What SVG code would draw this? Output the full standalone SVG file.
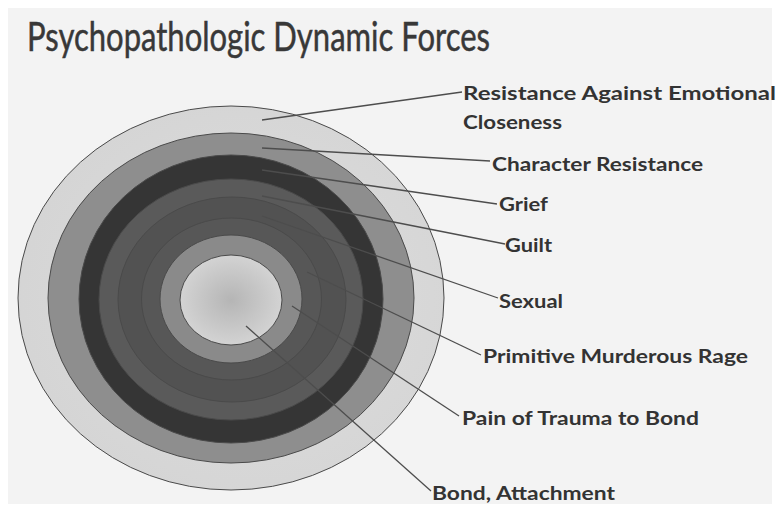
<svg xmlns="http://www.w3.org/2000/svg" width="780" height="510" viewBox="0 0 780 510">
  <style>
    .ring { stroke: #4a4a4a; stroke-width: 1; }
    .lbl { font-family: Lato, "Open Sans", "Liberation Sans", sans-serif; font-weight: bold; font-size: 18px; fill: #333333; }
    .title { font-family: Lato, "Open Sans", "Liberation Sans", sans-serif; font-size: 40px; fill: #383838; stroke: #383838; stroke-width: 0.5; }
    .lead { stroke: #4d4d4d; stroke-width: 1.3; fill: none; }
  </style>
  <defs>
    <radialGradient id="gOuter" cx="0.55" cy="0.5" r="0.6">
      <stop offset="0" stop-color="#dedede"/>
      <stop offset="1" stop-color="#d4d4d4"/>
    </radialGradient>
    <radialGradient id="gInner" cx="0.5" cy="0.5" r="0.55">
      <stop offset="0" stop-color="#b5b5b5"/>
      <stop offset="1" stop-color="#d6d6d6"/>
    </radialGradient>
  </defs>
  <rect x="0" y="0" width="780" height="510" fill="#ffffff"/>
  <rect x="8" y="8" width="764" height="496" fill="#f3f3f3"/>
  <text class="title" x="27" y="51" textLength="463" lengthAdjust="spacingAndGlyphs">Psychopathologic Dynamic Forces</text>

  <g id="resistance-emotional-closeness">
    <ellipse class="ring" cx="231" cy="298" rx="213" ry="192" fill="url(#gOuter)"/>
    <text class="lbl" x="463" y="100" textLength="313" lengthAdjust="spacingAndGlyphs">Resistance Against Emotional</text>
    <text class="lbl" x="463" y="129" textLength="99" lengthAdjust="spacingAndGlyphs">Closeness</text>
  </g>
  <g id="character-resistance">
    <ellipse class="ring" cx="231" cy="298" rx="183" ry="165" fill="#8e8e8e"/>
    <text class="lbl" x="492" y="171" textLength="211" lengthAdjust="spacingAndGlyphs">Character Resistance</text>
  </g>
  <g id="grief">
    <ellipse class="ring" cx="231" cy="299" rx="152" ry="144" fill="#353535"/>
    <text class="lbl" x="499" y="211" textLength="49" lengthAdjust="spacingAndGlyphs">Grief</text>
  </g>
  <g id="guilt">
    <ellipse class="ring" cx="231" cy="299.5" rx="132" ry="120.5" fill="#5a5a5a"/>
    <text class="lbl" x="505" y="252" textLength="47" lengthAdjust="spacingAndGlyphs">Guilt</text>
  </g>
  <g id="sexual">
    <ellipse class="ring" cx="232" cy="299.5" rx="114" ry="102.5" fill="#525252"/>
    <text class="lbl" x="499" y="308" textLength="64" lengthAdjust="spacingAndGlyphs">Sexual</text>
  </g>
  <g id="primitive-murderous-rage">
    <ellipse class="ring" cx="231.5" cy="299" rx="90" ry="81" fill="#575757"/>
    <text class="lbl" x="483" y="363" textLength="265" lengthAdjust="spacingAndGlyphs">Primitive Murderous Rage</text>
  </g>
  <g id="pain-of-trauma">
    <ellipse class="ring" cx="231" cy="299" rx="71" ry="64" fill="#8a8a8a"/>
    <text class="lbl" x="462" y="425" textLength="237" lengthAdjust="spacingAndGlyphs">Pain of Trauma to Bond</text>
  </g>
  <g id="bond-attachment">
    <ellipse class="ring" cx="231" cy="300" rx="51" ry="45" fill="url(#gInner)"/>
    <text class="lbl" x="432" y="500" textLength="183" lengthAdjust="spacingAndGlyphs">Bond, Attachment</text>
  </g>

  <g id="connectors">
    <line class="lead" x1="262" y1="120" x2="462" y2="92"/>
    <line class="lead" x1="262" y1="148" x2="490" y2="161"/>
    <line class="lead" x1="262" y1="170" x2="497" y2="204"/>
    <line class="lead" x1="262" y1="196" x2="505" y2="244"/>
    <line class="lead" x1="262" y1="216" x2="498" y2="298"/>
    <line class="lead" x1="307" y1="272" x2="481" y2="355"/>
    <line class="lead" x1="292" y1="306" x2="459" y2="416"/>
    <line class="lead" x1="246" y1="326" x2="431" y2="491"/>
  </g>
</svg>
